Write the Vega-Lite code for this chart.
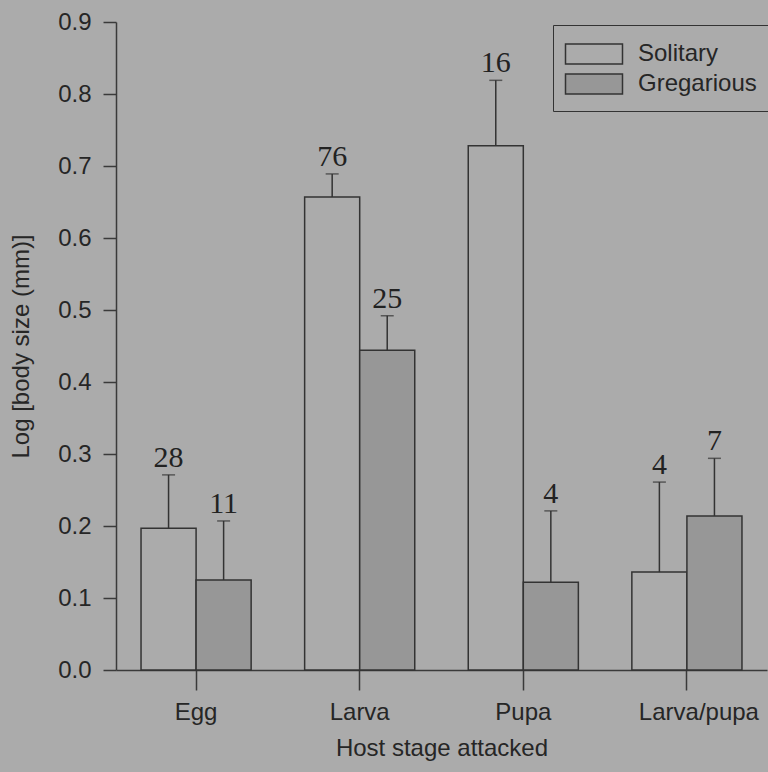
{
  "$schema": "https://vega.github.io/schema/vega-lite/v6.json",
  "autosize": {"type": "none"},
  "padding": {"left": 116, "top": 22, "right": 1, "bottom": 102},
  "width": 651,
  "height": 648,
  "background": "#ababab",
  "config": {
    "view": {"stroke": null},
    "axis": {
      "labelFont": "Liberation Sans",
      "titleFont": "Liberation Sans",
      "labelFontSize": 24,
      "titleFontSize": 24,
      "titleFontWeight": "normal",
      "labelColor": "#262626",
      "titleColor": "#262626",
      "domainColor": "#3a3a3a",
      "tickColor": "#3a3a3a",
      "domainWidth": 1.5,
      "tickWidth": 1.5,
      "grid": false
    },
    "legend": {"strokeColor": "#333333"}
  },
  "data": {
    "values": [
      {"stage": "Egg", "group": "Solitary", "mean": 0.197, "upper": 0.271, "n": "28"},
      {"stage": "Egg", "group": "Gregarious", "mean": 0.125, "upper": 0.207, "n": "11"},
      {"stage": "Larva", "group": "Solitary", "mean": 0.657, "upper": 0.689, "n": "76"},
      {"stage": "Larva", "group": "Gregarious", "mean": 0.444, "upper": 0.492, "n": "25"},
      {"stage": "Pupa", "group": "Solitary", "mean": 0.728, "upper": 0.819, "n": "16"},
      {"stage": "Pupa", "group": "Gregarious", "mean": 0.122, "upper": 0.221, "n": "4"},
      {"stage": "Larva/pupa", "group": "Solitary", "mean": 0.136, "upper": 0.261, "n": "4"},
      {"stage": "Larva/pupa", "group": "Gregarious", "mean": 0.214, "upper": 0.294, "n": "7"}
    ]
  },
  "encoding": {
    "x": {
      "field": "stage",
      "type": "nominal",
      "sort": ["Egg", "Larva", "Pupa", "Larva/pupa"],
      "scale": {"paddingInner": 0.327, "paddingOuter": 0.153},
      "axis": {
        "title": "Host stage attacked",
        "labelAngle": 0,
        "tickSize": 20,
        "labelPadding": 10,
        "titlePadding": 12,
        "labelOffset": {"condition": {"test": "datum.value === 'Larva/pupa'", "value": 12}, "value": 0}
      }
    },
    "xOffset": {
      "field": "group",
      "type": "nominal",
      "sort": ["Solitary", "Gregarious"],
      "scale": {"paddingInner": 0, "paddingOuter": 0}
    }
  },
  "layer": [
    {
      "mark": {"type": "bar", "stroke": "#333333", "strokeWidth": 1.5},
      "encoding": {
        "y": {
          "field": "mean",
          "type": "quantitative",
          "scale": {"domain": [0, 0.9], "nice": false},
          "axis": {
            "title": "Log [body size (mm)]",
            "values": [0, 0.1, 0.2, 0.3, 0.4, 0.5, 0.6, 0.7, 0.8, 0.9],
            "format": ".1f",
            "tickSize": 13,
            "labelPadding": 12,
            "titlePadding": 24
          }
        },
        "fill": {
          "field": "group",
          "type": "nominal",
          "sort": ["Solitary", "Gregarious"],
          "scale": {"domain": ["Solitary", "Gregarious"], "range": ["#ababab", "#979797"]},
          "legend": {
            "title": null,
            "orient": "none",
            "legendX": 437,
            "legendY": 3,
            "padding": 14,
            "strokeColor": "#333333",
            "fillColor": "#ababab",
            "symbolType": "M-2,-0.7H2V0.7H-2Z",
            "symbolSize": 812,
            "symbolOffset": 12,
            "symbolStrokeColor": "#333333",
            "symbolStrokeWidth": 1.5,
            "labelFont": "Liberation Sans",
            "labelFontSize": 24,
            "labelColor": "#262626",
            "labelOffset": 29,
            "rowPadding": 2
          }
        }
      }
    },
    {
      "mark": {"type": "rule", "color": "#333333", "strokeWidth": 1.5},
      "encoding": {
        "y": {"field": "mean", "type": "quantitative"},
        "y2": {"field": "upper"}
      }
    },
    {
      "mark": {"type": "tick", "color": "#333333", "thickness": 1.5, "size": 13, "orient": "horizontal"},
      "encoding": {
        "y": {"field": "upper", "type": "quantitative"}
      }
    },
    {
      "mark": {"type": "text", "font": "Liberation Serif", "fontSize": 30, "color": "#222222", "baseline": "alphabetic", "dy": -8},
      "encoding": {
        "y": {"field": "upper", "type": "quantitative"},
        "text": {"field": "n"}
      }
    }
  ]
}
